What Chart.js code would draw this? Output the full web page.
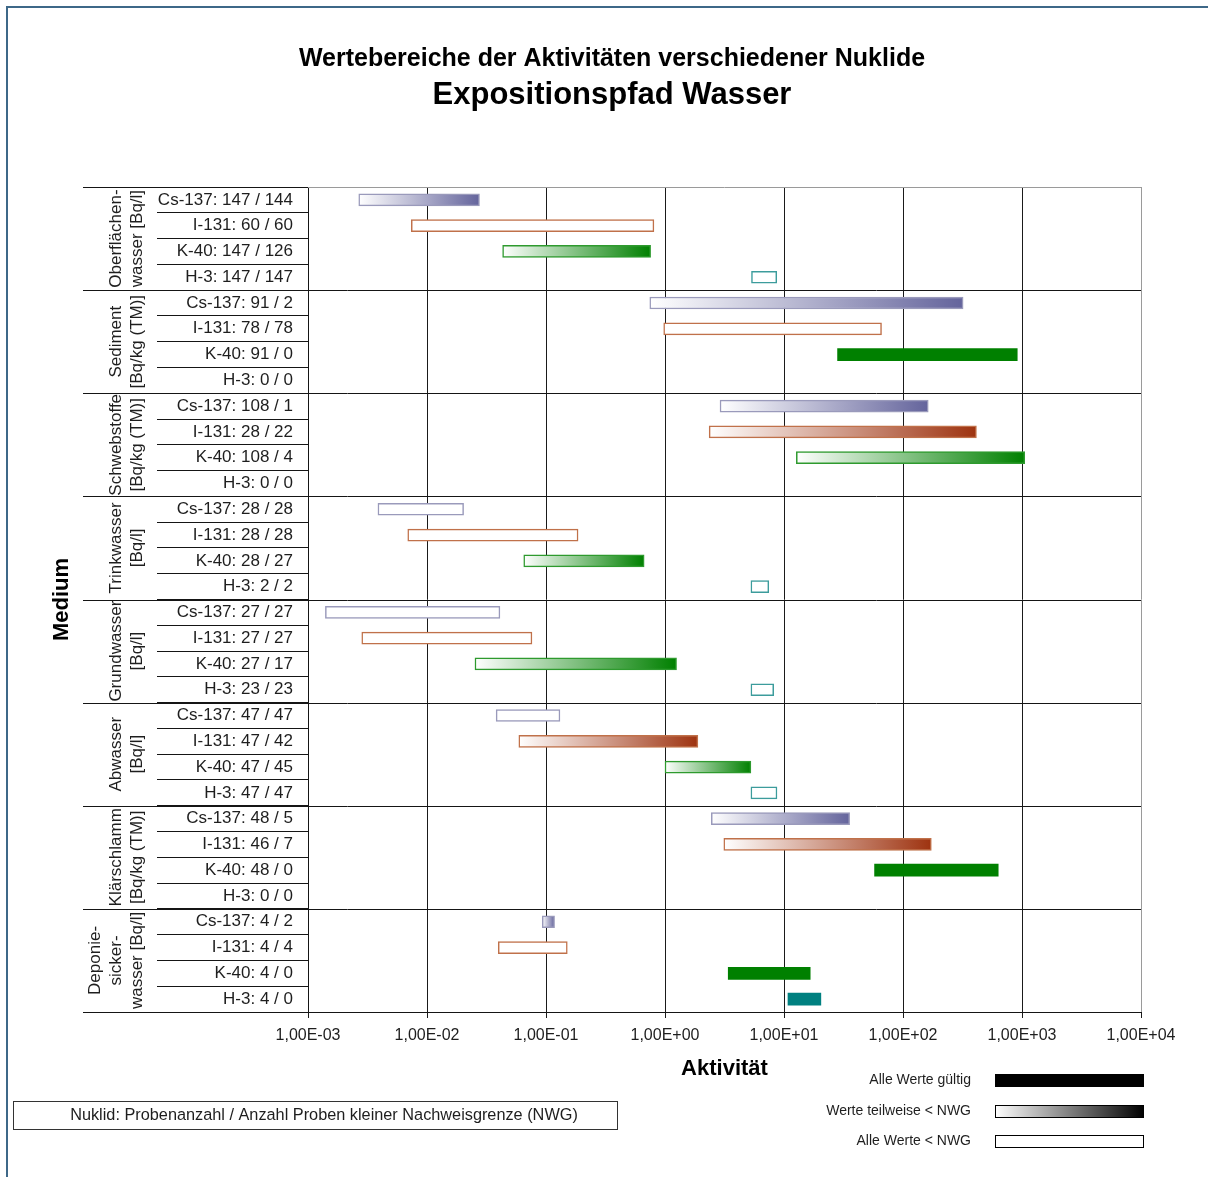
<!DOCTYPE html>
<html>
<head>
<meta charset="utf-8">
<title>Expositionspfad Wasser</title>
<script src="https://cdn.jsdelivr.net/npm/chart.js@4.4.1/dist/chart.umd.min.js"></script>
<style>
  html, body { margin: 0; padding: 0; background: #ffffff; }
  canvas { display: block; }
</style>
</head>
<body>
<canvas id="chart" width="1208" height="1177"></canvas>
<script>
// ---- Data ---------------------------------------------------------------
// Medium groups (text lines of the rotated group labels)
const media = [
  ['Oberflächen-', 'wasser [Bq/l]'],
  ['Sediment', '[Bq/kg (TM)]'],
  ['Schwebstoffe', '[Bq/kg (TM)]'],
  ['Trinkwasser', '[Bq/l]'],
  ['Grundwasser', '[Bq/l]'],
  ['Abwasser', '[Bq/l]'],
  ['Klärschlamm', '[Bq/kg (TM)]'],
  ['Deponie-', 'sicker-', 'wasser [Bq/l]']
];

const nuclides = ['Cs-137', 'I-131', 'K-40', 'H-3'];

// Number of samples per medium / nuclide
const sampleCount = [
  147, 60, 147, 147,
  91, 78, 91, 0,
  108, 28, 108, 0,
  28, 28, 28, 2,
  27, 27, 27, 23,
  47, 47, 47, 47,
  48, 46, 48, 0,
  4, 4, 4, 4
];

// Number of samples below the detection limit (NWG)
const belowLimit = [
  144, 60, 126, 147,
  2, 78, 0, 0,
  1, 22, 4, 0,
  28, 28, 27, 2,
  27, 27, 17, 23,
  47, 42, 45, 47,
  5, 7, 0, 0,
  2, 4, 0, 0
];

// Lowest and highest activity of each range (null = no samples)
const rangeMin = [
  0.00267, 0.00738, 0.0432, 5.33,
  0.745, 0.975, 28.2, null,
  2.90, 2.35, 12.7, null,
  0.00387, 0.00689, 0.065, 5.27,
  0.0014, 0.00283, 0.0253, 5.27,
  0.0381, 0.0591, 1.0, 5.27,
  2.45, 3.12, 57.7, null,
  0.093, 0.0397, 3.40, 10.8
];
const rangeMax = [
  0.0276, 0.807, 0.757, 8.69,
  320, 66, 912, null,
  163, 414, 1054, null,
  0.0203, 0.186, 0.668, 7.45,
  0.041, 0.0762, 1.25, 8.19,
  0.131, 1.89, 5.27, 8.73,
  35.6, 173, 631, null,
  0.118, 0.151, 16.6, 20.4
];

// Activity axis ticks
const tickValues = [1e-3, 1e-2, 1e-1, 1e0, 1e1, 1e2, 1e3, 1e4];
const tickLabels = ['1,00E-03', '1,00E-02', '1,00E-01', '1,00E+00', '1,00E+01', '1,00E+02', '1,00E+03', '1,00E+04'];

// Legend entries
const legendLabels = ['Alle Werte gültig', 'Werte teilweise < NWG', 'Alle Werte < NWG'];

// ---- Styling ----------------------------------------------------------
const FONT = '"Liberation Sans", Arial, Helvetica, sans-serif';
const TEXT = '#1e1e1e';
const nuclideColors = [
  { solid: '#64649c', edge: '#9a9abb' },   // Cs-137
  { solid: '#9e3310', edge: '#c0714a' },   // I-131
  { solid: '#008000', edge: '#2e9a2e' },   // K-40
  { solid: '#008080', edge: '#3c9c9c' }    // H-3
];

const categoryLabels = sampleCount.map((n, i) =>
  nuclides[i % nuclides.length] + ': ' + n + ' / ' + belowLimit[i]);

function fillKind(i) {
  if (belowLimit[i] === 0) return 'solid';
  if (belowLimit[i] === sampleCount[i]) return 'empty';
  return 'partial';
}

function barFill(c) {
  const i = c.dataIndex;
  if (i === undefined) return '#ffffff';
  const col = nuclideColors[i % 4];
  const kind = fillKind(i);
  if (kind === 'solid') return col.solid;
  if (kind === 'empty') return '#ffffff';
  const chart = c.chart, xs = chart.scales.x;
  if (!chart.chartArea || !xs || rangeMin[i] == null) return col.solid;
  const x0 = xs.getPixelForValue(rangeMin[i]);
  const x1 = xs.getPixelForValue(rangeMax[i]);
  const g = chart.ctx.createLinearGradient(x0, 0, x1, 0);
  g.addColorStop(0, '#ffffff');
  g.addColorStop(1, col.solid);
  return g;
}

function barEdge(c) {
  const i = c.dataIndex;
  if (i === undefined) return '#000000';
  const col = nuclideColors[i % 4];
  return fillKind(i) === 'solid' ? col.solid : col.edge;
}

// ---- Decorations: titles, group labels, legend, frame ------------------
const decorations = {
  id: 'decorations',
  afterDraw(chart) {
    const { ctx, chartArea: a, scales: { y } } = chart;
    const rows = categoryLabels.length;
    const edge = k => k <= 0 ? a.top : k >= rows ? a.bottom
      : (y.getPixelForValue(k - 1) + y.getPixelForValue(k)) / 2;
    const px = v => Math.round(v) + 0.5;

    ctx.save();

    // frame
    ctx.strokeStyle = '#3e6888';
    ctx.lineWidth = 2;
    ctx.beginPath();
    ctx.moveTo(7, 1177); ctx.lineTo(7, 7); ctx.lineTo(1208, 7);
    ctx.stroke();

    // group separators
    ctx.lineWidth = 1;
    for (let g = 0; g <= media.length; g++) {
      const yy = px(edge(g * 4));
      ctx.strokeStyle = '#151515';
      ctx.beginPath();
      ctx.moveTo(83, yy);
      ctx.lineTo(g === 0 ? a.left : a.right, yy);
      ctx.stroke();
      if (g === 0) {
        ctx.strokeStyle = '#9a9a9a';
        ctx.beginPath(); ctx.moveTo(a.left, yy); ctx.lineTo(a.right, yy); ctx.stroke();
      }
    }

    // rotated group labels
    ctx.fillStyle = TEXT;
    ctx.font = '17px ' + FONT;
    ctx.textAlign = 'center';
    ctx.textBaseline = 'middle';
    media.forEach((lines, g) => {
      const yc = (edge(g * 4) + edge(g * 4 + 4)) / 2;
      lines.forEach((line, j) => {
        const xc = 137 - 21 * (lines.length - 1 - j);
        ctx.save();
        ctx.translate(xc, yc);
        ctx.rotate(-Math.PI / 2);
        ctx.fillText(line, 0, 0);
        ctx.restore();
      });
    });

    // titles
    ctx.fillStyle = '#000000';
    ctx.font = 'bold 25px ' + FONT;
    ctx.fillText('Wertebereiche der Aktivitäten verschiedener Nuklide', 612, 59);
    ctx.font = 'bold 31px ' + FONT;
    ctx.fillText('Expositionspfad Wasser', 612, 95);

    // axis titles
    ctx.font = 'bold 22px ' + FONT;
    ctx.fillText('Aktivität', (a.left + a.right) / 2, 1069);
    ctx.save();
    ctx.translate(62, (a.top + a.bottom) / 2);
    ctx.rotate(-Math.PI / 2);
    ctx.fillText('Medium', 0, 0);
    ctx.restore();

    // legend
    const ly = [1080, 1111, 1141];
    ctx.font = '14px ' + FONT;
    ctx.fillStyle = TEXT;
    ctx.textAlign = 'right';
    legendLabels.forEach((t, k) => ctx.fillText(t, 971, ly[k]));
    const sx = 995, sw = 149, sh = 13;
    ctx.fillStyle = '#000000';
    ctx.fillRect(sx, ly[0] - 6, sw, sh);
    const lg = ctx.createLinearGradient(sx, 0, sx + sw, 0);
    lg.addColorStop(0, '#ffffff');
    lg.addColorStop(1, '#000000');
    ctx.fillStyle = lg;
    ctx.fillRect(sx, ly[1] - 6, sw, sh);
    ctx.strokeStyle = '#000000';
    ctx.strokeRect(sx + 0.5, ly[1] - 6 + 0.5, sw - 1, sh - 1);
    ctx.fillStyle = '#ffffff';
    ctx.fillRect(sx, ly[2] - 6, sw, sh);
    ctx.strokeRect(sx + 0.5, ly[2] - 6 + 0.5, sw - 1, sh - 1);

    // footnote box
    ctx.strokeStyle = '#333333';
    ctx.strokeRect(13.5, 1101.5, 604, 28);
    ctx.fillStyle = TEXT;
    ctx.font = '16.3px ' + FONT;
    ctx.textAlign = 'center';
    ctx.fillText('Nuklid: Probenanzahl / Anzahl Proben kleiner Nachweisgrenze (NWG)', 324, 1116);

    ctx.restore();
  }
};

// ---- Chart --------------------------------------------------------------
new Chart(document.getElementById('chart'), {
  type: 'bar',
  data: {
    labels: categoryLabels,
    datasets: [{
      data: rangeMin.map((lo, i) => lo == null ? null : [lo, rangeMax[i]]),
      backgroundColor: barFill,
      borderColor: barEdge,
      borderWidth: c => (c.dataIndex !== undefined && fillKind(c.dataIndex) === 'solid') ? 0 : 1.5,
      borderSkipped: false,
      barThickness: 12
    }]
  },
  options: {
    indexAxis: 'y',
    responsive: false,
    animation: false,
    devicePixelRatio: 1,
    layout: { padding: { top: 187, right: 67, bottom: 0, left: 0 } },
    plugins: {
      legend: { display: false },
      title: { display: false },
      tooltip: { enabled: false }
    },
    scales: {
      x: {
        type: 'logarithmic',
        min: tickValues[0],
        max: tickValues[tickValues.length - 1],
        afterBuildTicks: s => { s.ticks = tickValues.map(v => ({ value: v })); },
        afterFit: s => { s.height = 165; },
        ticks: {
          autoSkip: false,
          maxRotation: 0,
          padding: 8,
          color: TEXT,
          font: { family: FONT, size: 16 },
          callback: (v, i) => tickLabels[i]
        },
        grid: {
          color: c => c.index === tickValues.length - 1 ? '#9a9a9a' : '#1a1a1a',
          lineWidth: 1,
          drawTicks: true,
          tickLength: 6,
          tickColor: '#1a1a1a'
        },
        border: { display: true, color: '#151515', width: 1 }
      },
      y: {
        type: 'category',
        offset: true,
        afterFit: s => { s.width = 308; },
        ticks: {
          padding: -136,
          color: TEXT,
          font: { family: FONT, size: 17 },
          autoSkip: false
        },
        grid: {
          offset: true,
          drawOnChartArea: false,
          drawTicks: true,
          tickLength: 151,
          tickColor: '#151515',
          tickWidth: 1
        },
        border: { display: true, color: '#151515', width: 1 }
      }
    }
  },
  plugins: [decorations]
});
</script>
</body>
</html>
